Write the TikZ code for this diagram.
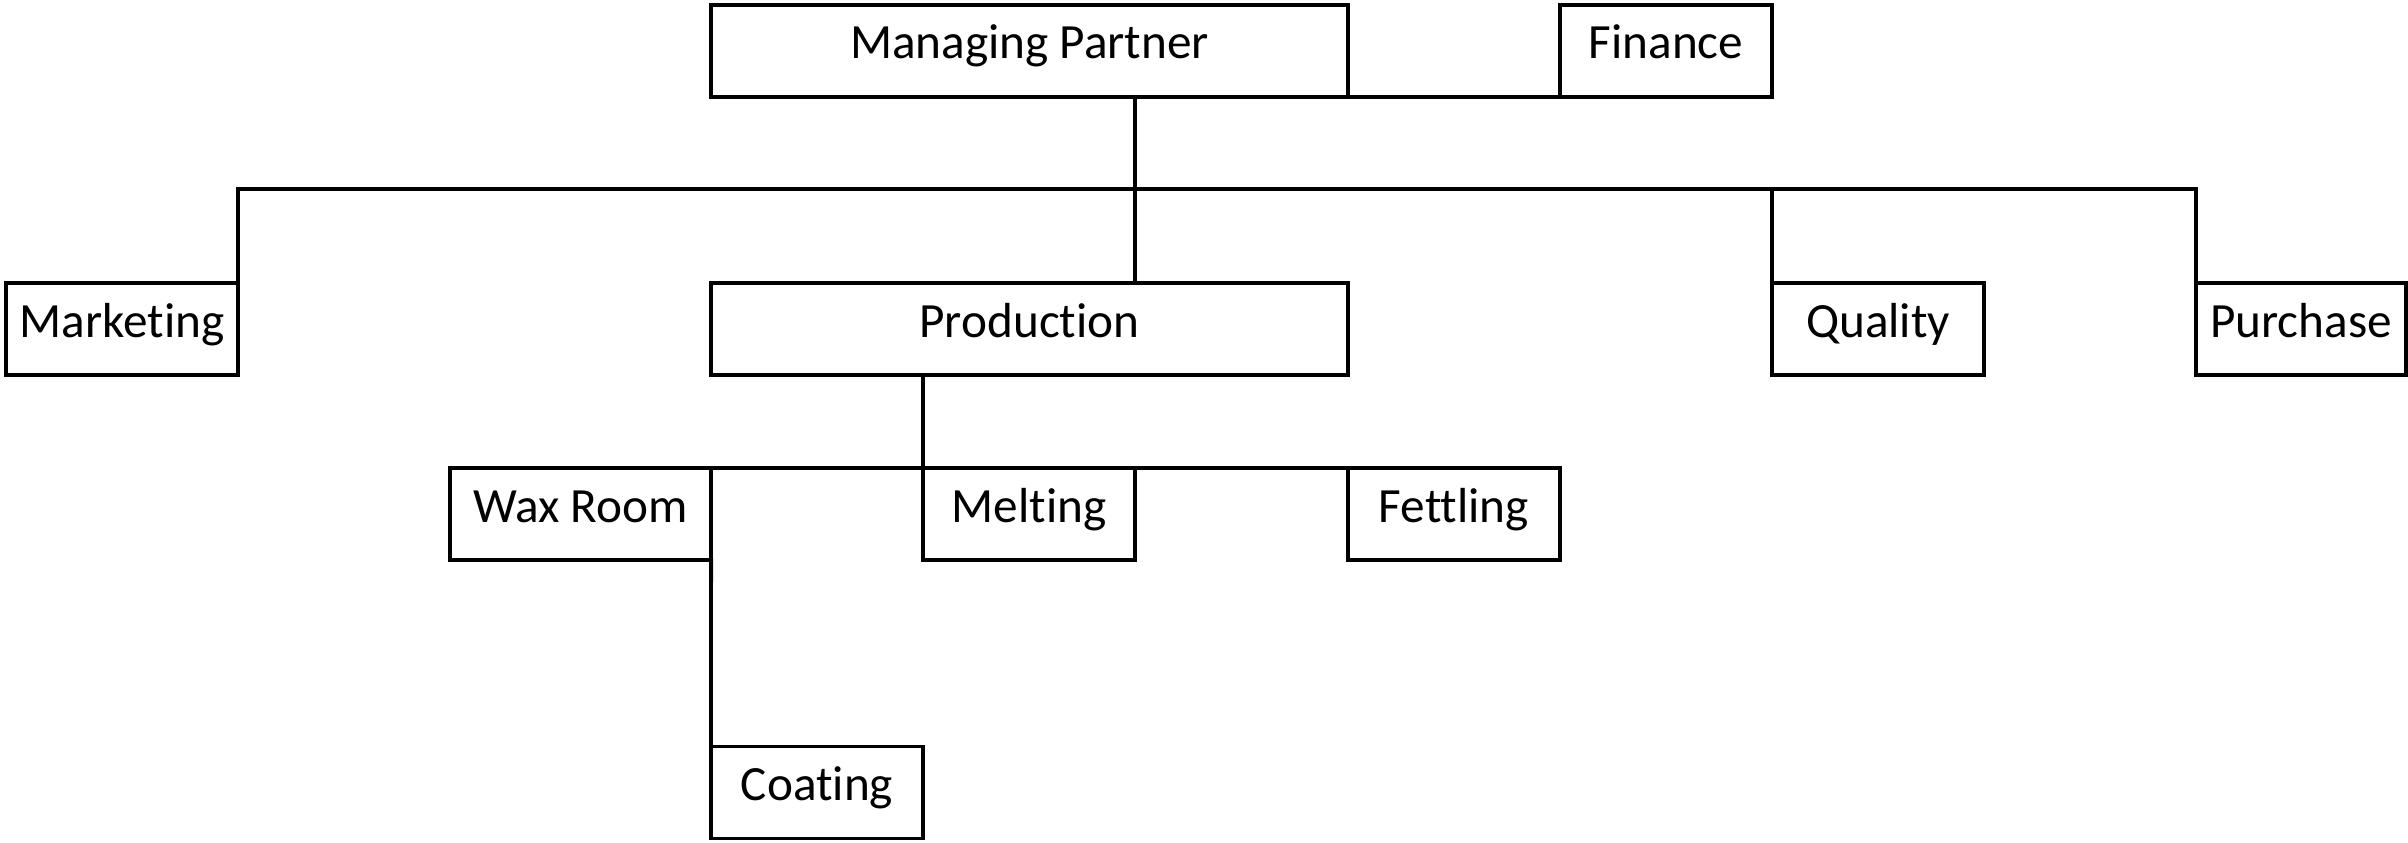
\documentclass[tikz,border=0pt]{standalone}
\usepackage{fontspec}
\setmainfont[Ligatures=NoCommon]{Carlito}
\begin{document}
\begin{tikzpicture}[x=0.01cm,y=-0.01cm,
  box/.style={draw, line width=1.1pt, rectangle, inner sep=0pt, outer sep=0pt, minimum height=0.92cm,
    text height=0.34cm, text depth=0.18cm, font=\fontsize{14}{16}\selectfont},
  link/.style={draw, line width=1.1pt, line cap=rect}]
\useasboundingbox (0,0) rectangle (2408,843);
\node[box, minimum width=6.37cm] (mp) at (1029.5,51) {Managing Partner};
\node[box, minimum width=2.12cm] (fin) at (1666,51) {Finance};
\node[box, minimum width=2.32cm] (mkt) at (122,329) {Marketing};
\node[box, minimum width=6.37cm] (prod) at (1029.5,329) {Production};
\node[box, minimum width=2.12cm] (qual) at (1878,329) {Quality};
\node[box, minimum width=2.10cm] (pur) at (2301,329) {Purchase};
\node[box, minimum width=2.61cm] (wax) at (580.5,514) {Wax Room};
\node[box, minimum width=2.12cm] (melt) at (1029,514) {Melting};
\node[box, minimum width=2.12cm] (fett) at (1454,514) {Fettling};
\node[box, minimum width=2.12cm] (coat) at (817,792.5) {Coating};
\coordinate (bus) at (1135,189);
\path[link] (mp.south east) -- (fin.south west);
\path[link] (mp.south -| bus) -- (prod.north -| bus);
\path[link] (mkt.north east |- bus) -- (pur.north west |- bus);
\path[link] (mkt.north east) -- (mkt.north east |- bus);
\path[link] (qual.north west) -- (qual.north west |- bus);
\path[link] (pur.north west) -- (pur.north west |- bus);
\path[link] (prod.south -| melt.north west) -- (melt.north west);
\path[link] (wax.north west) -- (fett.north east);
\path[link] (wax.south east) -- (coat.north west);
\end{tikzpicture}
\end{document}
